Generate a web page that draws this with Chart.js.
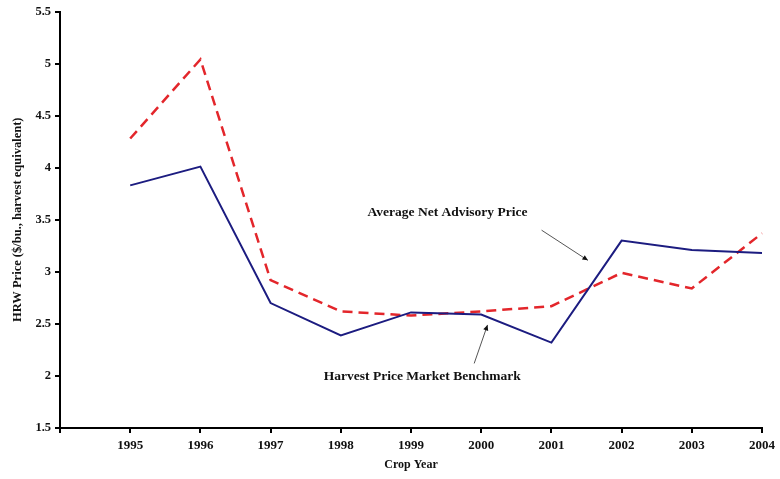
<!DOCTYPE html>
<html>
<head>
<meta charset="utf-8">
<script src="https://cdn.jsdelivr.net/npm/chart.js@4/dist/chart.umd.min.js"></script>
<style>
    html, body { margin: 0; padding: 0; background: #fff; }
    #wrap { width: 780px; height: 479px; }
</style>
</head>
<body>
<div id="wrap"><canvas id="price-chart" width="780" height="479"></canvas></div>
<script>
// Crop years (first slot left blank so the axis starts one step before 1995)
const years = ['', '1995', '1996', '1997', '1998', '1999', '2000', '2001', '2002', '2003', '2004'];
const benchmark = [null, 3.83, 4.01, 2.70, 2.39, 2.61, 2.59, 2.32, 3.30, 3.21, 3.18];
const advisory = [null, 4.28, 5.04, 2.92, 2.62, 2.58, 2.62, 2.67, 2.99, 2.84, 3.37];
const yTicks = [1.5, 2, 2.5, 3, 3.5, 4, 4.5, 5, 5.5];

// Callout labels with arrows, positioned in data units (x = category index, y = price)
const notes = [
    { text: 'Average Net Advisory Price', tx: 5.52, ty: 3.57, from: [6.86, 3.40], to: [7.52, 3.11] },
    { text: 'Harvest Price Market Benchmark', tx: 5.16, ty: 1.99, from: [5.90, 2.12], to: [6.09, 2.49] }
];

const serif = '"Liberation Serif", "Times New Roman", serif';

const notesPlugin = {
    id: 'notes',
    afterDatasetsDraw(chart) {
        const ctx = chart.ctx;
        const xs = chart.scales.x;
        const ys = chart.scales.y;
        ctx.save();
        notes.forEach(n => {
            ctx.font = 'bold 13.5px ' + serif;
            ctx.fillStyle = '#111';
            ctx.textAlign = 'center';
            ctx.textBaseline = 'middle';
            ctx.fillText(n.text, xs.getPixelForValue(n.tx), ys.getPixelForValue(n.ty));

            const x1 = xs.getPixelForValue(n.from[0]), y1 = ys.getPixelForValue(n.from[1]);
            const x2 = xs.getPixelForValue(n.to[0]), y2 = ys.getPixelForValue(n.to[1]);
            ctx.strokeStyle = '#555';
            ctx.lineWidth = 1;
            ctx.beginPath();
            ctx.moveTo(x1, y1);
            ctx.lineTo(x2, y2);
            ctx.stroke();

            // small arrow head
            const a = Math.atan2(y2 - y1, x2 - x1);
            ctx.fillStyle = '#111';
            ctx.beginPath();
            ctx.moveTo(x2, y2);
            ctx.lineTo(x2 - 6 * Math.cos(a - 0.45), y2 - 6 * Math.sin(a - 0.45));
            ctx.lineTo(x2 - 6 * Math.cos(a + 0.45), y2 - 6 * Math.sin(a + 0.45));
            ctx.closePath();
            ctx.fill();
        });
        ctx.restore();
    }
};

new Chart(document.getElementById('price-chart'), {
    type: 'line',
    data: {
        labels: years,
        datasets: [
            {
                label: 'Harvest Price Market Benchmark',
                data: benchmark,
                borderColor: '#1c1c80',
                borderWidth: 2,
                pointRadius: 0,
                tension: 0,
                fill: false
            },
            {
                label: 'Average Net Advisory Price',
                data: advisory,
                borderColor: '#e3262b',
                borderWidth: 2.5,
                borderDash: [10, 6],
                pointRadius: 0,
                tension: 0,
                fill: false
            }
        ]
    },
    options: {
        responsive: false,
        animation: false,
        layout: { padding: { top: 10, right: 17, left: 0, bottom: 0 } },
        plugins: {
            legend: { display: false },
            tooltip: { enabled: false }
        },
        scales: {
            x: {
                offset: false,
                border: { color: '#000', width: 2 },
                grid: { drawOnChartArea: false, color: '#000', tickLength: 5, lineWidth: 2 },
                ticks: {
                    color: '#111',
                    font: { family: serif, size: 13, weight: 'bold' },
                    maxRotation: 0,
                    autoSkip: false,
                    padding: 5
                },
                title: {
                    display: true,
                    text: 'Crop Year',
                    color: '#111',
                    font: { family: serif, size: 12, weight: 'bold' },
                    padding: { top: 2, bottom: 7 }
                },
                afterFit(scale) { scale.height = 51; }
            },
            y: {
                min: 1.5,
                max: 5.5,
                border: { color: '#000', width: 2 },
                grid: { drawOnChartArea: false, color: '#000', tickLength: 5, lineWidth: 2 },
                afterBuildTicks(scale) { scale.ticks = yTicks.map(v => ({ value: v })); },
                ticks: {
                    color: '#111',
                    font: { family: serif, size: 12.5, weight: 'bold' },
                    padding: 4,
                    autoSkip: false,
                    callback: v => String(v)
                },
                title: {
                    display: true,
                    text: 'HRW Price ($/bu., harvest equivalent)',
                    color: '#111',
                    font: { family: serif, size: 12.5, weight: 'bold' },
                    padding: { top: 10, bottom: 4 }
                },
                afterFit(scale) { scale.width = 60; }
            }
        }
    },
    plugins: [notesPlugin]
});
</script>
</body>
</html>
